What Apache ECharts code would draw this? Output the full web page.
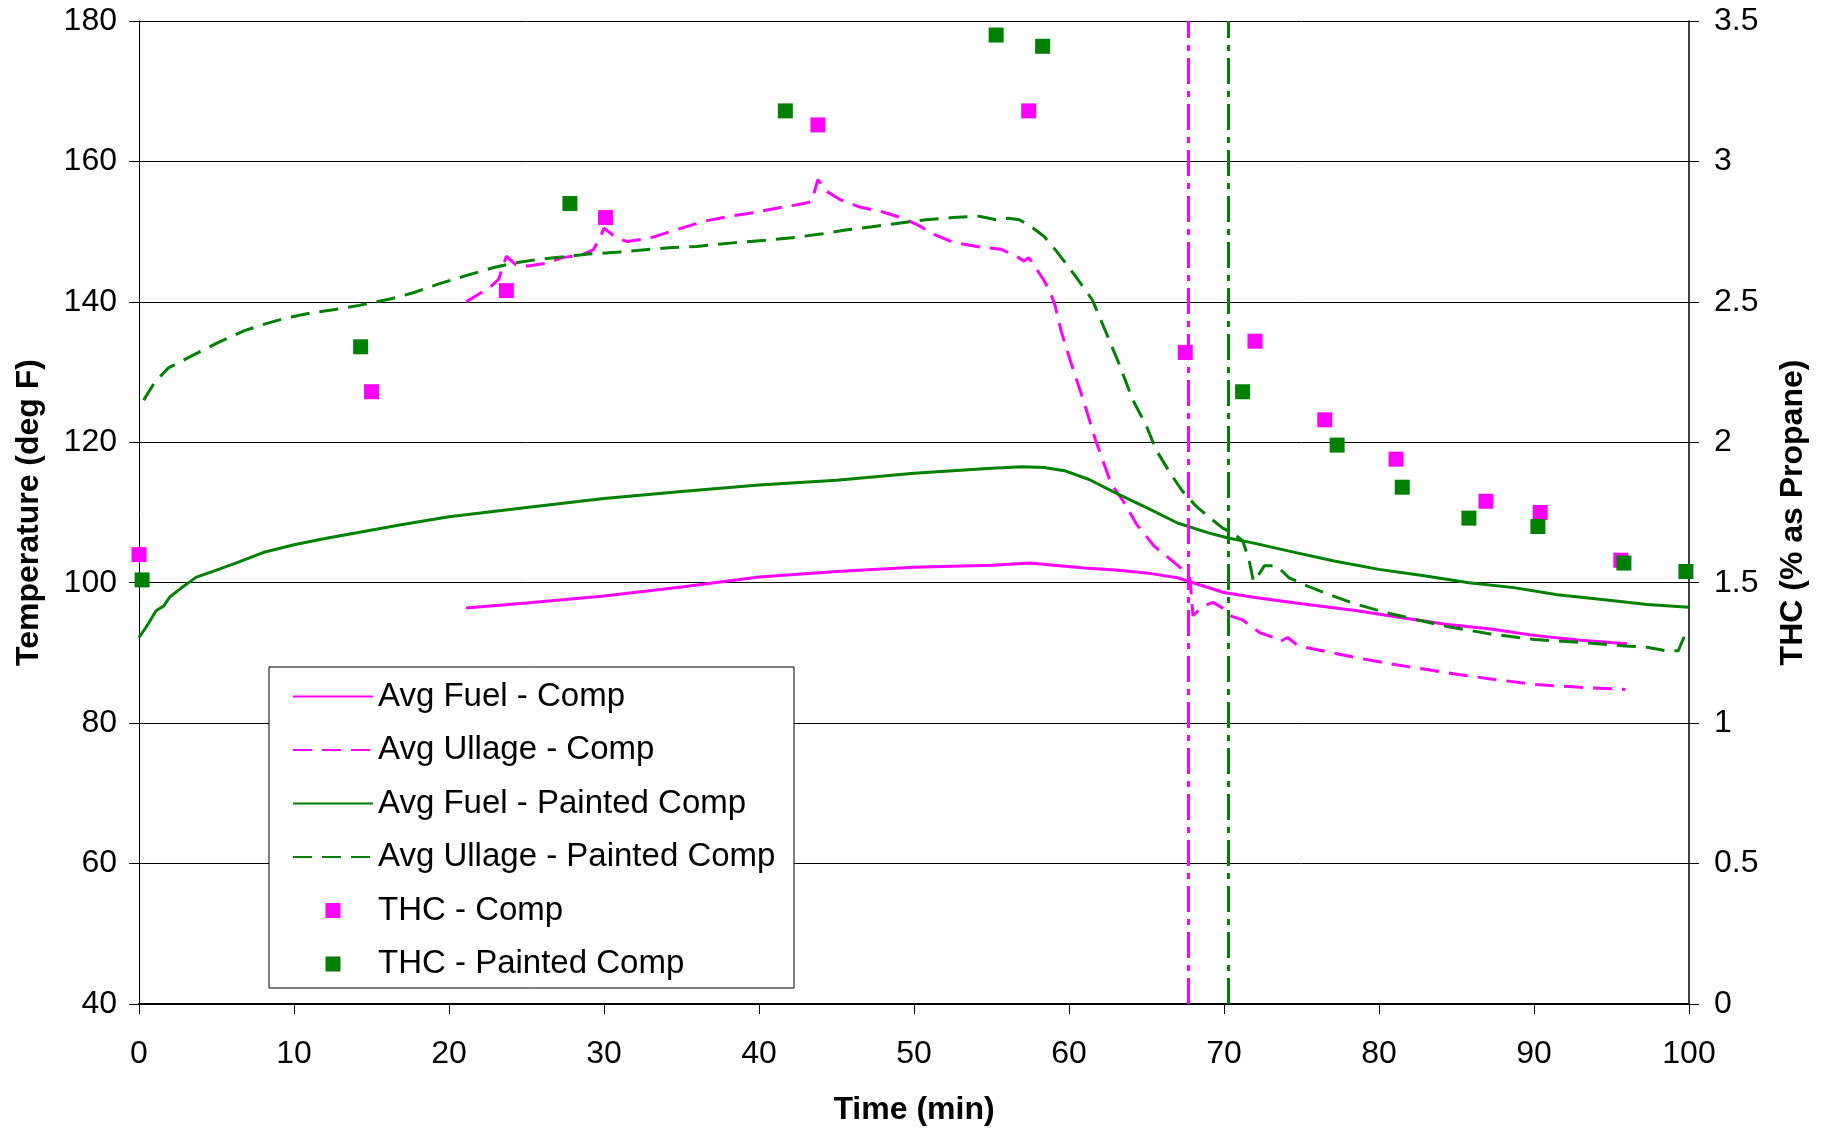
<!DOCTYPE html>
<html>
<head>
<meta charset="utf-8">
<title>Temperature and THC</title>
<script src="https://cdn.jsdelivr.net/npm/echarts@6/dist/echarts.min.js"></script>
<style>
  html, body { margin: 0; padding: 0; background: #fff; }
  #chartDiv { width: 1826px; height: 1128px; }
</style>
</head>
<body>
<div id="chartDiv"></div>
<script>
// [time (min), temperature (deg F)]
const fuelComp = [
  [21.1, 96.4], [25, 97.1], [30, 98.1], [35, 99.4], [40, 100.8], [45, 101.6], [50, 102.2],
  [55, 102.5], [57.5, 102.8], [59, 102.5], [61, 102.1], [63, 101.8], [65, 101.4], [67, 100.7],
  [68, 100.0], [70, 98.6], [72, 97.9], [75, 97.0], [78.6, 96.0], [81.5, 95.0], [84.3, 94.1],
  [87.2, 93.4], [90, 92.5], [93, 91.8], [96, 91.3]
]
const ullageComp = [
  [21.1, 140.0], [22.6, 142.0], [23.2, 143.2], [23.7, 146.5], [24.3, 145.3], [25.1, 145.1],
  [26.3, 145.5], [27.3, 146.3], [28.6, 146.7], [29.3, 147.4], [29.7, 148.9], [30.0, 150.5],
  [30.8, 149.1], [31.5, 148.6], [33.0, 149.1], [34.7, 150.3], [36.5, 151.5], [38.1, 152.2],
  [39.6, 152.7], [41.3, 153.4], [42.9, 154.0], [43.4, 154.3], [43.8, 157.4], [44.4, 155.7],
  [45.2, 154.6], [46.5, 153.5], [48, 152.8], [49.3, 151.9], [50.2, 151.0], [51.3, 149.6],
  [52.5, 148.5], [54.3, 147.8], [55.6, 147.5], [56.6, 146.5], [57.1, 145.8], [57.4, 146.3],
  [57.9, 144.7], [58.4, 143.0], [58.8, 141.3], [59.1, 139.5], [59.5, 135.8], [60.1, 131.5],
  [61.0, 125.5], [61.7, 120.4], [62.7, 114.2], [63.5, 111.6], [64.4, 108.2], [65.5, 105.2],
  [66.4, 103.6], [67.2, 102.1], [67.8, 100.6], [68.0, 95.3], [68.6, 96.6], [69.3, 97.2],
  [69.9, 96.4], [70.5, 95.2], [71.2, 94.7], [71.9, 93.6], [72.3, 92.9], [73.2, 92.2],
  [73.6, 91.6], [74.1, 92.2], [74.8, 91.0], [76.8, 90.1], [78.6, 89.3], [80.9, 88.4],
  [82.9, 87.7], [84.9, 87.0], [87.2, 86.3], [90.1, 85.5], [93, 85.1], [95.9, 84.8]
]
const fuelPainted = [
  [0, 92.2], [0.5, 93.8], [1.1, 96.0], [1.6, 96.7], [2.0, 98.0], [2.7, 99.2], [3.7, 100.8],
  [5, 101.8], [6.5, 103.0], [8, 104.3], [10, 105.4], [12, 106.3], [14.5, 107.3], [17, 108.3],
  [20, 109.4], [25, 110.7], [30, 112.0], [35, 113.0], [40, 113.9], [45, 114.6], [50, 115.6],
  [55, 116.3], [57, 116.5], [58.4, 116.4], [59.8, 115.9], [61.3, 114.7], [63, 112.8],
  [65, 110.7], [67, 108.5], [69, 107.1], [70.2, 106.4], [72, 105.6], [74.2, 104.5],
  [77.1, 103.1], [80, 101.9], [82.9, 101.0], [85.8, 100.0], [88.7, 99.3], [91.5, 98.3],
  [94.4, 97.6], [97.3, 96.9], [100, 96.5]
]
const ullagePainted = [
  [0.3, 126.0], [1.0, 128.5], [1.9, 130.6], [3.4, 132.3], [5.1, 134.2], [6.8, 135.9],
  [8.2, 136.9], [9.5, 137.7], [11.3, 138.5], [12.9, 139.0], [14.2, 139.5], [16.2, 140.4],
  [17.7, 141.3], [19.4, 142.6], [21.2, 143.8], [22.9, 144.9], [24.1, 145.5], [25.6, 146.0],
  [27.8, 146.5], [29.0, 146.8], [31.0, 147.1], [32.5, 147.4], [34.2, 147.7], [36.0, 147.9],
  [38.3, 148.4], [40.5, 148.8], [42.4, 149.2], [44.1, 149.7], [45.8, 150.3], [47.3, 150.7],
  [49.0, 151.2], [50.8, 151.7], [52.5, 152.0], [54.2, 152.2], [55.3, 151.7], [56.1, 151.9],
  [56.8, 151.7], [57.5, 150.8], [58.4, 149.3], [59.2, 147.2], [60.4, 143.7], [61.5, 140.3],
  [62.4, 135.6], [63.3, 130.8], [64.1, 126.1], [65.0, 122.3], [65.6, 119.0], [66.5, 115.7],
  [67.3, 113.1], [68.2, 110.9], [69.05, 109.3], [69.9, 107.8], [70.6, 107.0], [71.2, 106.0],
  [71.6, 103.4], [71.9, 100.2], [72.2, 101.0], [72.6, 102.4], [73.4, 102.4], [74.2, 100.7],
  [75.4, 99.5], [76.8, 98.3], [78.3, 97.1], [79.7, 96.2], [80.9, 95.5], [82.3, 94.8],
  [84.3, 93.8], [87.2, 92.7], [90.1, 91.9], [93.0, 91.5], [95.9, 91.0], [97.3, 90.8],
  [98.5, 90.3], [99.3, 90.3], [99.9, 93.4]
]
// [time (min), THC (% as propane)]
const thcComp = [
  [0, 1.60], [15.0, 2.18], [23.7, 2.54], [30.1, 2.80], [43.8, 3.13], [57.4, 3.18], [67.5, 2.32],
  [72.0, 2.36], [76.5, 2.08], [81.1, 1.94], [86.9, 1.79], [90.4, 1.75], [95.6, 1.58]
]
const thcPainted = [
  [0.2, 1.51], [14.3, 2.34], [27.8, 2.85], [41.7, 3.18], [55.3, 3.45], [58.3, 3.41], [71.2, 2.18],
  [77.3, 1.99], [81.5, 1.84], [85.8, 1.73], [90.25, 1.70], [95.8, 1.57], [99.8, 1.54]
]
// vertical marker lines (min)
const markComp = [67.7]
const markPainted = [70.25]

const MAGENTA = '#ff00ff'
const GREEN = '#008000'
const FONT = 'Liberation Sans, Arial, sans-serif'
const dashed = [19, 10]
const dashDot = [26, 7, 6, 7]

const lineSeries = (name, data, color, type, marks) => ({
  name: name,
  type: 'line',
  data: data,
  symbol: 'none',
  showSymbol: false,
  z: 2,
  lineStyle: { color: color, width: 3, type: type },
  itemStyle: { color: color },
  markLine: marks ? {
    silent: true,
    symbol: 'none',
    label: { show: false },
    lineStyle: { color: color, width: 3, type: dashDot },
    data: marks.map((m) => ({ xAxis: m }))
  } : undefined
})

const scatterSeries = (name, data, color) => ({
  name: name,
  type: 'scatter',
  yAxisIndex: 1,
  data: data,
  symbol: 'rect',
  symbolSize: 15,
  z: 3,
  itemStyle: { color: color, opacity: 1 }
})

const square = 'path://M0 0H1V1H0Z'
// line items in the legend: hide the centre dot, keep the line
const noDot = { opacity: 0 }

const option = {
  animation: false,
  backgroundColor: '#fff',
  textStyle: { fontFamily: FONT, color: '#000' },
  // fixed plot box, do not shrink it for the axis names
  grid: { left: 139, right: 137, top: 21, bottom: 124, outerBoundsMode: 'none' },
  legend: {
    orient: 'vertical',
    left: 269,
    top: 667,
    padding: [13, 0, 0, 23],
    itemGap: 20.5,
    itemWidth: 80,
    itemHeight: 15,
    textStyle: { fontFamily: FONT, fontSize: 33, color: '#000' },
    data: [
      { name: 'Avg Fuel - Comp', itemStyle: noDot },
      { name: 'Avg Ullage - Comp', itemStyle: noDot },
      { name: 'Avg Fuel - Painted Comp', itemStyle: noDot },
      { name: 'Avg Ullage - Painted Comp', itemStyle: noDot },
      { name: 'THC - Comp', icon: square },
      { name: 'THC - Painted Comp', icon: square }
    ]
  },
  graphic: [{
    type: 'rect',
    z: 3,
    shape: { x: 269, y: 667, width: 525, height: 321 },
    style: { fill: '#fff', stroke: '#000', lineWidth: 1 }
  }],
  xAxis: {
    type: 'value',
    min: 0,
    max: 100,
    interval: 10,
    name: 'Time (min)',
    nameLocation: 'middle',
    nameGap: 90,
    nameTextStyle: { fontFamily: FONT, fontSize: 32, fontWeight: 'bold', color: '#000' },
    axisLine: { show: true, onZero: false, lineStyle: { color: '#000', width: 2 } },
    axisTick: { show: true, length: 10, lineStyle: { color: '#000', width: 1 } },
    axisLabel: { fontFamily: FONT, fontSize: 32, color: '#000', margin: 34 },
    splitLine: { show: false }
  },
  yAxis: [
    {
      type: 'value',
      min: 40,
      max: 180,
      interval: 20,
      name: 'Temperature (deg F)',
      nameLocation: 'middle',
      nameGap: 94,
      nameTextStyle: { fontFamily: FONT, fontSize: 32, fontWeight: 'bold', color: '#000' },
      axisLine: { show: true, lineStyle: { color: '#000', width: 1 } },
      axisTick: { show: true, length: 10, lineStyle: { color: '#000', width: 1 } },
      axisLabel: { fontFamily: FONT, fontSize: 32, color: '#000', margin: 22 },
      splitLine: { show: true, lineStyle: { color: '#000', width: 1 } }
    },
    {
      type: 'value',
      min: 0,
      max: 3.5,
      interval: 0.5,
      position: 'right',
      name: 'THC (% as Propane)',
      nameLocation: 'middle',
      nameGap: 88,
      nameTextStyle: { fontFamily: FONT, fontSize: 32, fontWeight: 'bold', color: '#000' },
      axisLine: { show: true, lineStyle: { color: '#000', width: 1.5 } },
      axisTick: { show: true, length: 10, lineStyle: { color: '#000', width: 1 } },
      axisLabel: { fontFamily: FONT, fontSize: 32, color: '#000', margin: 25 },
      splitLine: { show: false }
    }
  ],
  series: [
    lineSeries('Avg Fuel - Comp', fuelComp, MAGENTA, 'solid', markComp),
    lineSeries('Avg Ullage - Comp', ullageComp, MAGENTA, dashed),
    lineSeries('Avg Fuel - Painted Comp', fuelPainted, GREEN, 'solid', markPainted),
    lineSeries('Avg Ullage - Painted Comp', ullagePainted, GREEN, dashed),
    scatterSeries('THC - Comp', thcComp, MAGENTA),
    scatterSeries('THC - Painted Comp', thcPainted, GREEN)
  ]
}

const chartDiv = document.getElementById('chartDiv')
const chart = echarts.init(chartDiv)
chart.setOption(option)
</script>
</body>
</html>
